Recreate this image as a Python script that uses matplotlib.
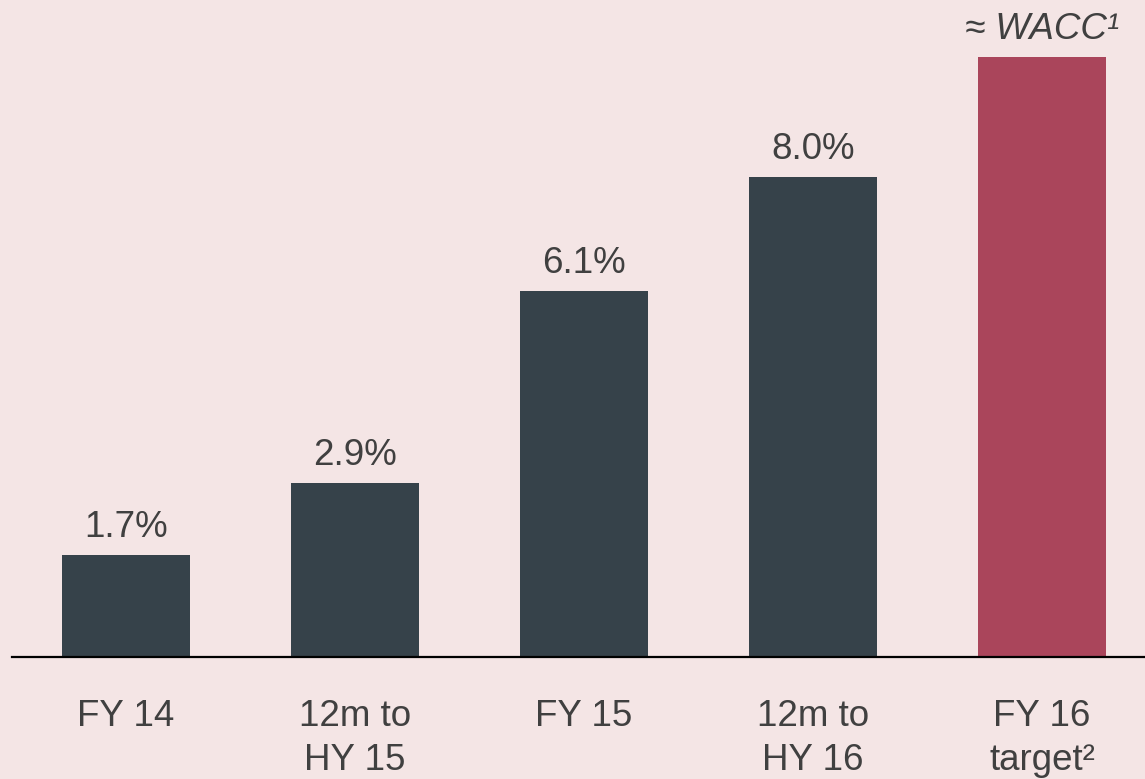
import matplotlib
matplotlib.use("Agg")
import matplotlib.pyplot as plt

# Return figures by period (%)
categories = ["FY 14", "12m to\nHY 15", "FY 15", "12m to\nHY 16", "FY 16\ntarget²"]
values = [1.7, 2.9, 6.1, 8.0, 10.0]
value_labels = ["1.7%", "2.9%", "6.1%", "8.0%", "≈ WACC¹"]
bar_colors = ["#36424a", "#36424a", "#36424a", "#36424a", "#aa455b"]

BG = "#f4e5e5"
TEXT = "#404040"

plt.rcParams["font.family"] = ["Liberation Sans", "DejaVu Sans"]

W, H = 1145, 779
fig = plt.figure(figsize=(W / 100, H / 100), dpi=100, facecolor=BG)

base_y = 657  # pixel row of the baseline from the top
ax = fig.add_axes([12 / W, (H - base_y) / H, 1 - 12 / W, base_y / H])
ax.set_facecolor(BG)

x = list(range(len(categories)))
bars = ax.bar(x, values, width=0.56, color=bar_colors, zorder=2)

ax.set_xlim(-0.498, 4.45)
ax.set_ylim(0, base_y / 60)

for spine in ["top", "right", "left"]:
    ax.spines[spine].set_visible(False)
ax.spines["bottom"].set_linewidth(1.6)
ax.spines["bottom"].set_color("black")

FS = 26.5
ax.set_yticks([])
ax.set_xticks(x)
ax.set_xticklabels(categories, fontsize=FS, color=TEXT, linespacing=1.36)
ax.tick_params(axis="x", length=0, pad=30)

for i, (rect, lab) in enumerate(zip(bars, value_labels)):
    style = "italic" if i == len(values) - 1 else "normal"
    ax.annotate(lab, (rect.get_x() + rect.get_width() / 2, rect.get_height()),
                xytext=(0, 7), textcoords="offset points",
                ha="center", va="bottom", fontsize=FS, color=TEXT,
                fontstyle=style)

fig.savefig("out.png", dpi=100, facecolor=BG)
